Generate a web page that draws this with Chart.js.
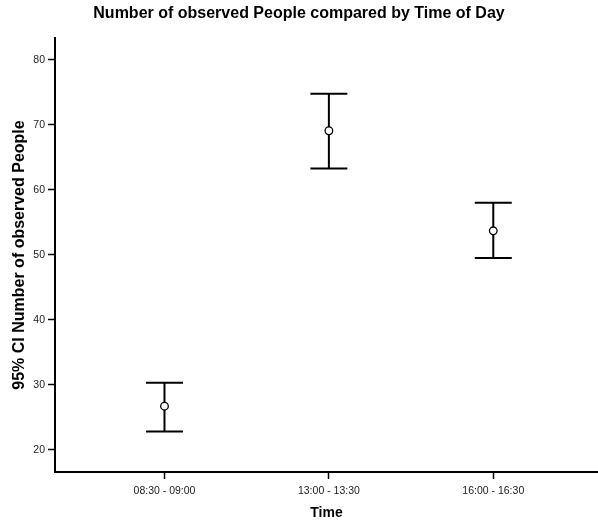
<!DOCTYPE html>
<html>
<head>
<meta charset="utf-8">
<script src="https://cdn.jsdelivr.net/npm/chart.js@4/dist/chart.umd.min.js"></script>
<style>
  html, body { margin: 0; padding: 0; background: #fff; }
  canvas { display: block; }
</style>
</head>
<body>
<canvas id="c" width="598" height="521"></canvas>
<script>
// ---- data ----
const categories = ['08:30 - 09:00', '13:00 - 13:30', '16:00 - 16:30'];
const means = [26.7, 69.1, 53.7];
const lowerCI = [22.8, 63.3, 49.5];
const upperCI = [30.3, 74.8, 58.0];
const yTicks = [20, 30, 40, 50, 60, 70, 80];
const xPositions = [1, 2, 3];

const FONT = "'Liberation Sans', Arial, Helvetica, sans-serif";

const errorBarPlugin = {
  id: 'errorBars',
  beforeDatasetsDraw(chart) {
    const { ctx, scales: { x, y } } = chart;
    ctx.save();
    ctx.strokeStyle = '#000';
    ctx.lineWidth = 2;
    const capHalf = 18.5;
    xPositions.forEach((xv, i) => {
      const px = x.getPixelForValue(xv);
      const pTop = y.getPixelForValue(upperCI[i]);
      const pBot = y.getPixelForValue(lowerCI[i]);
      ctx.beginPath();
      ctx.moveTo(px, pTop);
      ctx.lineTo(px, pBot);
      ctx.moveTo(px - capHalf, pTop);
      ctx.lineTo(px + capHalf, pTop);
      ctx.moveTo(px - capHalf, pBot);
      ctx.lineTo(px + capHalf, pBot);
      ctx.stroke();
    });
    ctx.restore();
  }
};

new Chart(document.getElementById('c'), {
  type: 'scatter',
  data: {
    datasets: [{
      data: xPositions.map((xv, i) => ({ x: xv, y: means[i] })),
      pointRadius: 3.8,
      pointBorderWidth: 1.3,
      pointBorderColor: '#000',
      pointBackgroundColor: '#fff',
      showLine: false
    }]
  },
  options: {
    responsive: false,
    animation: false,
    devicePixelRatio: 1,
    layout: { padding: 0, autoPadding: false },
    plugins: {
      legend: { display: false },
      tooltip: { enabled: false },
      title: {
        display: true,
        text: 'Number of observed People compared by Time of Day',
        color: '#000',
        font: { family: FONT, size: 16, weight: 'bold' },
        padding: { top: 4.2, bottom: 14.6 }
      }
    },
    scales: {
      x: {
        type: 'linear',
        min: 0.334,
        max: 3.637,
        afterFit(scale) { scale.height = 49; scale.paddingLeft = 0; scale.paddingRight = 0; },
        afterBuildTicks(scale) { scale.ticks = xPositions.map(v => ({ value: v })); },
        ticks: {
          callback: (v) => categories[xPositions.indexOf(v)] ?? '',
          color: '#222',
          font: { family: FONT, size: 10.5 },
          padding: 6,
          maxRotation: 0,
          autoSkip: false
        },
        grid: {
          display: true,
          drawOnChartArea: false,
          drawTicks: true,
          tickLength: 7,
          tickColor: '#000',
          tickWidth: 1.5
        },
        border: { display: true, color: '#000', width: 2 },
        title: {
          display: true,
          text: 'Time',
          color: '#000',
          font: { family: FONT, size: 14, weight: 'bold' },
          padding: { top: 0, bottom: -1 }
        }
      },
      y: {
        type: 'linear',
        min: 16.57,
        max: 83.38,
        afterFit(scale) { scale.width = 55; scale.paddingTop = 0; scale.paddingBottom = 0; },
        afterBuildTicks(scale) { scale.ticks = yTicks.map(v => ({ value: v })); },
        ticks: {
          color: '#222',
          font: { family: FONT, size: 10.5 },
          padding: 3
        },
        grid: {
          display: true,
          drawOnChartArea: false,
          drawTicks: true,
          tickLength: 7,
          tickColor: '#000',
          tickWidth: 1.5
        },
        border: { display: true, color: '#000', width: 2 },
        title: {
          display: true,
          text: '95% CI Number of observed People',
          color: '#000',
          font: { family: FONT, size: 16, weight: 'bold' },
          padding: { top: 10, bottom: 0 }
        }
      }
    }
  },
  plugins: [errorBarPlugin]
});
</script>
</body>
</html>
